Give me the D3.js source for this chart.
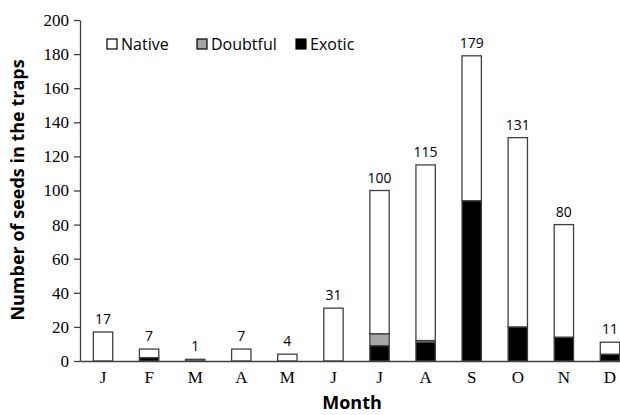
<!DOCTYPE html>
<html>
<head>
<meta charset="utf-8">
<script src="https://cdn.jsdelivr.net/npm/d3@7"></script>
<style>
  body { margin: 0; background: #fff; }
  svg { display: block; }
</style>
</head>
<body>
<svg id="chart" width="620" height="415"></svg>
<script>
const months = ["J", "F", "M", "A", "M", "J", "J", "A", "S", "O", "N", "D"];
const native = [17, 5, 0, 7, 4, 31, 84, 103, 85, 111, 66, 7];
const doubtful = [0, 0, 1, 0, 0, 0, 7, 1, 0, 0, 0, 0];
const exotic = [0, 2, 0, 0, 0, 0, 9, 11, 94, 20, 14, 4];
const yTicks = [0, 20, 40, 60, 80, 100, 120, 140, 160, 180, 200];

const seriesNames = ["Exotic", "Doubtful", "Native"];
const colors = { Native: "#ffffff", Doubtful: "#a6a6a6", Exotic: "#000000" };

const rows = months.map((m, i) => ({
  idx: i,
  Native: native[i],
  Doubtful: doubtful[i],
  Exotic: exotic[i],
  total: native[i] + doubtful[i] + exotic[i],
}));

const svg = d3.select("#chart");
const serif = "Liberation Serif, DejaVu Serif, serif";
const sans = "Open Sans, Liberation Sans, sans-serif";

const x = d3
  .scaleBand()
  .domain(rows.map((d) => d.idx))
  .range([80, 633])
  .paddingInner(0.58)
  .paddingOuter(0.29);

const y = d3.scaleLinear().domain([0, 200]).range([361, 20]);

const layers = d3.stack().keys(seriesNames)(rows);

const g = svg.append("g");

g.selectAll("g.layer")
  .data(layers)
  .enter()
  .append("g")
  .attr("class", "layer")
  .attr("fill", (d) => colors[d.key])
  .selectAll("rect")
  .data((d) => d.filter((p) => p[1] - p[0] > 0))
  .enter()
  .append("rect")
  .attr("x", (d) => x(d.data.idx))
  .attr("width", x.bandwidth())
  .attr("y", (d) => y(d[1]))
  .attr("height", (d) => y(d[0]) - y(d[1]))
  .attr("stroke", "#404040")
  .attr("stroke-width", 1.3);

// totals above bars
g.selectAll("text.total")
  .data(rows)
  .enter()
  .append("text")
  .attr("class", "total")
  .attr("x", (d) => x(d.idx) + x.bandwidth() / 2)
  .attr("y", (d) => y(d.total) - 8)
  .attr("text-anchor", "middle")
  .attr("font-family", sans)
  .attr("font-size", 14)
  .text((d) => d.total);

// y axis
const yAxis = svg
  .append("g")
  .attr("transform", "translate(80,0)")
  .call(d3.axisLeft(y).tickValues(yTicks).tickSize(6).tickSizeOuter(0))
  .attr("font-family", serif)
  .attr("font-size", 17);
yAxis.select(".domain").attr("stroke", "#404040").attr("stroke-width", 1.3);
yAxis.selectAll(".tick line").attr("stroke", "#404040").attr("stroke-width", 1.3);
yAxis.selectAll(".tick text").attr("fill", "#000").attr("x", -11);

// x axis
const xAxis = svg
  .append("g")
  .attr("transform", "translate(0,361)")
  .call(d3.axisBottom(x).tickFormat((i) => months[i]).tickSize(0).tickSizeOuter(0))
  .attr("font-family", serif)
  .attr("font-size", 17);
xAxis.select(".domain").attr("stroke", "#404040").attr("stroke-width", 1.3);
xAxis.selectAll(".tick text").attr("fill", "#000").attr("dy", "1.1em");

// axis titles
svg
  .append("text")
  .attr("x", 352)
  .attr("y", 409)
  .attr("text-anchor", "middle")
  .attr("font-family", sans)
  .attr("font-weight", "bold")
  .attr("font-size", 18)
  .text("Month");

svg
  .append("text")
  .attr("transform", "translate(24,190) rotate(-90)")
  .attr("text-anchor", "middle")
  .attr("font-family", sans)
  .attr("font-weight", "bold")
  .attr("font-size", 18)
  .text("Number of seeds in the traps");

// legend
const legendItems = [
  { name: "Native", x: 107 },
  { name: "Doubtful", x: 197 },
  { name: "Exotic", x: 296 },
];
const legend = svg
  .append("g")
  .selectAll("g")
  .data(legendItems)
  .enter()
  .append("g")
  .attr("transform", (d) => `translate(${d.x}, 39)`);

legend
  .append("rect")
  .attr("width", 10)
  .attr("height", 10)
  .attr("fill", (d) => colors[d.name])
  .attr("stroke", "#000")
  .attr("stroke-width", 1.2);

legend
  .append("text")
  .attr("x", 14)
  .attr("y", 11)
  .attr("font-family", sans)
  .attr("font-size", 16)
  .text((d) => d.name);
</script>
</body>
</html>
